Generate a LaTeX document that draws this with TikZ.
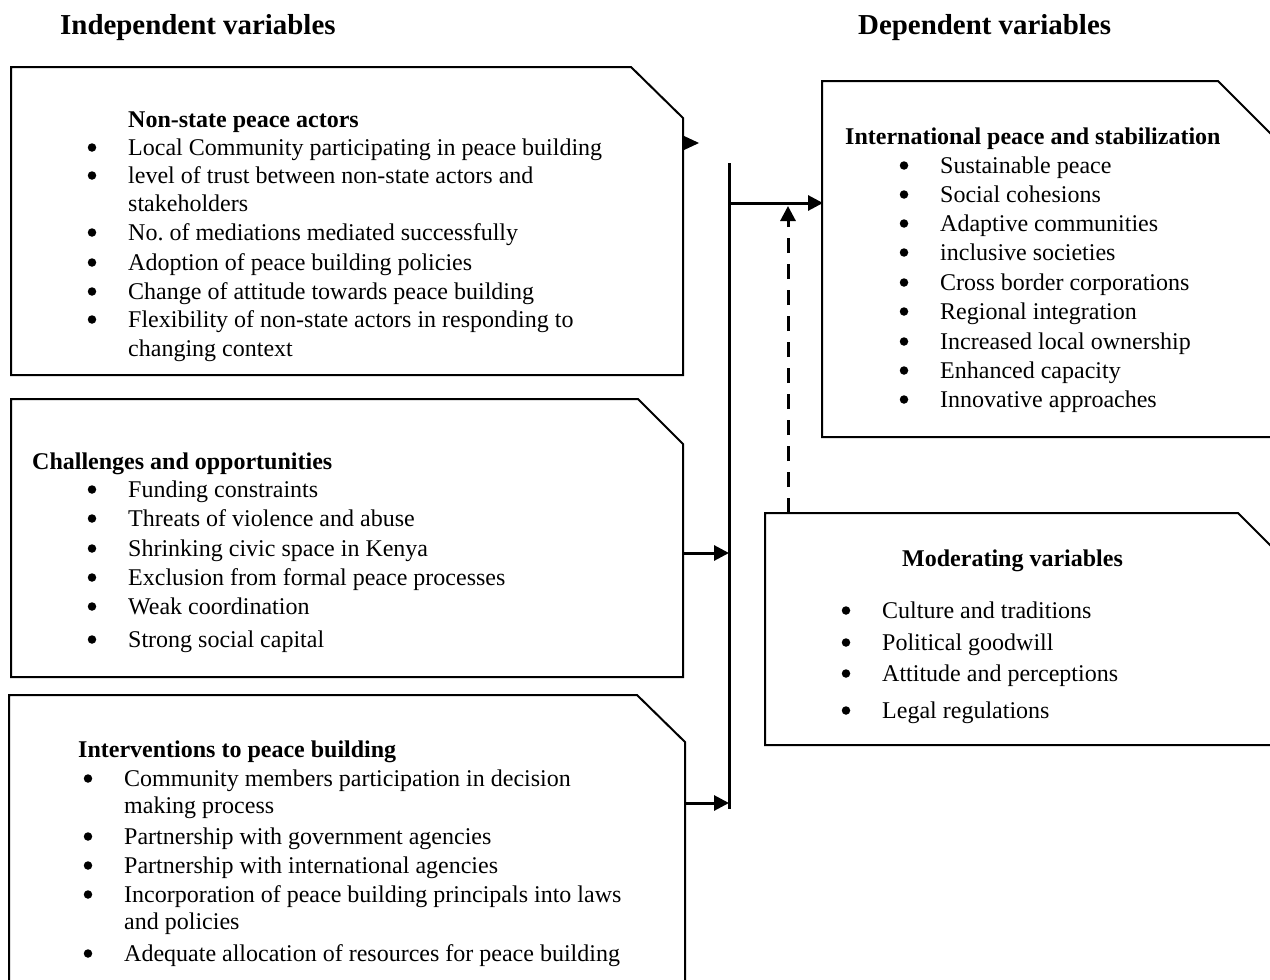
\documentclass[tikz,border=0pt]{standalone}
\usepackage{fontspec}
\setmainfont{Liberation Serif}
\frenchspacing
\usetikzlibrary{arrows.meta}
\tikzset{
  txt/.style={anchor=base west, inner sep=0pt, font=\fontsize{24}{29}\selectfont},
  hd/.style={anchor=base west, inner sep=0pt, font=\fontsize{24}{29}\selectfont\bfseries},
  bighd/.style={anchor=base west, inner sep=0pt, font=\fontsize{28.9}{34}\selectfont\bfseries},
  bul/.style={circle, fill=black, inner sep=0pt, minimum size=8.5pt},
  boxline/.style={line width=2pt, line join=miter},
  bar/.style={line width=3pt},
  arr/.style={line width=3pt, -{Triangle[length=15pt,width=15pt]}},
}
\begin{document}
\frenchspacing
\begin{tikzpicture}[x=1pt,y=-1pt]
\useasboundingbox (0,0) rectangle (1270,980);
\fill[white] (0,0) rectangle (1270,980);
\begin{scope}
\clip (0,0) rectangle (1270,980);
% headings
\node[bighd] (hind) at (60,34) {Independent variables};
\node[bighd] (hdep) at (858,34) {Dependent variables};

% box 1
\draw[boxline] (11,67) -- (631,67) -- (683,118) -- (683,375) -- (11,375) -- cycle;
\node[hd] (h1) at (128,127) {Non-state peace actors};
\foreach \y/\t [count=\i] in {155/{Local Community participating in peace building},183/{level of trust between non-state actors and},240/{No. of mediations mediated successfully},270/{Adoption of peace building policies},299/{Change of attitude towards peace building},327/{Flexibility of non-state actors in responding to}}{
  \node[bul] (bA\i) at (92,\y-7.5) {};
  \node[txt] (tA\i) at (128,\y) {\t};
}
\node[txt] (tA2b) at (128,211) {stakeholders};
\node[txt] (tA6b) at (128,356) {changing context};

% box 2
\draw[boxline] (11,399) -- (638,399) -- (683,444) -- (683,677) -- (11,677) -- cycle;
\node[hd] (h2) at (32,469) {Challenges and opportunities};
\foreach \y/\t [count=\i] in {497/{Funding constraints},526/{Threats of violence and abuse},556/{Shrinking civic space in Kenya},585/{Exclusion from formal peace processes},614/{Weak coordination},647/{Strong social capital}}{
  \node[bul] (bB\i) at (92,\y-7.5) {};
  \node[txt] (tB\i) at (128,\y) {\t};
}

% box 3
\draw[boxline] (9,990) -- (9,695) -- (637,695) -- (685,742) -- (685,990);
\node[hd] (h3) at (78,757) {Interventions to peace building};
\foreach \y/\t [count=\i] in {786/{Community members participation in decision},844/{Partnership with government agencies},873/{Partnership with international agencies},902/{Incorporation of peace building principals into laws},961/{Adequate allocation of resources for peace building}}{
  \node[bul] (bC\i) at (88,\y-7.5) {};
  \node[txt] (tC\i) at (124,\y) {\t};
}
\node[txt] (tC1b) at (124,813) {making process};
\node[txt] (tC4b) at (124,929) {and policies};

% box 4
\draw[boxline] (1290,437) -- (822,437) -- (822,81) -- (1218,81) -- (1290,153);
\node[hd] (h4) at (845,144) {International peace and stabilization};
\foreach \y/\t [count=\i] in {173/{Sustainable peace},202/{Social cohesions},231/{Adaptive communities},260/{inclusive societies},290/{Cross border corporations},319/{Regional integration},349/{Increased local ownership},378/{Enhanced capacity},407/{Innovative approaches}}{
  \node[bul] (bD\i) at (904,\y-7.5) {};
  \node[txt] (tD\i) at (940,\y) {\t};
}

% box 5
\draw[boxline] (1290,745) -- (765,745) -- (765,513) -- (1238,513) -- (1290,565);
\node[hd] (h5) at (902,566) {Moderating variables};
\foreach \y/\t [count=\i] in {618/{Culture and traditions},650/{Political goodwill},681/{Attitude and perceptions},718/{Legal regulations}}{
  \node[bul] (bE\i) at (846,\y-7.5) {};
  \node[txt] (tE\i) at (882,\y) {\t};
}

% connectors
\coordinate (bartop) at (729,163);
\coordinate (barbot) at (729,809);
\draw[bar] (bartop) -- (barbot);
\coordinate (b1tip) at (699,143);
\coordinate (b1up) at (683,135.5);
\coordinate (b1dn) at (683,150.5);
\coordinate (b2e) at (683,553);
\coordinate (b2bar) at (729,553);
\coordinate (b3e) at (685,803);
\coordinate (b3bar) at (729,803);
\coordinate (barout) at (729,203);
\coordinate (b4w) at (823,203);
\coordinate (b5n) at (788,513);
\coordinate (dashend) at (788,206);
\fill (b1up) -- (b1tip) -- (b1dn) -- cycle;
\draw[arr] (b2e) -- (b2bar);
\draw[arr] (b3e) -- (b3bar);
\draw[arr] (barout) -- (b4w);
\draw[line width=3pt, dash pattern=on 15pt off 11pt, -{Triangle[length=15pt,width=15pt]}] (b5n) -- (dashend);
\end{scope}
\end{tikzpicture}
\end{document}
